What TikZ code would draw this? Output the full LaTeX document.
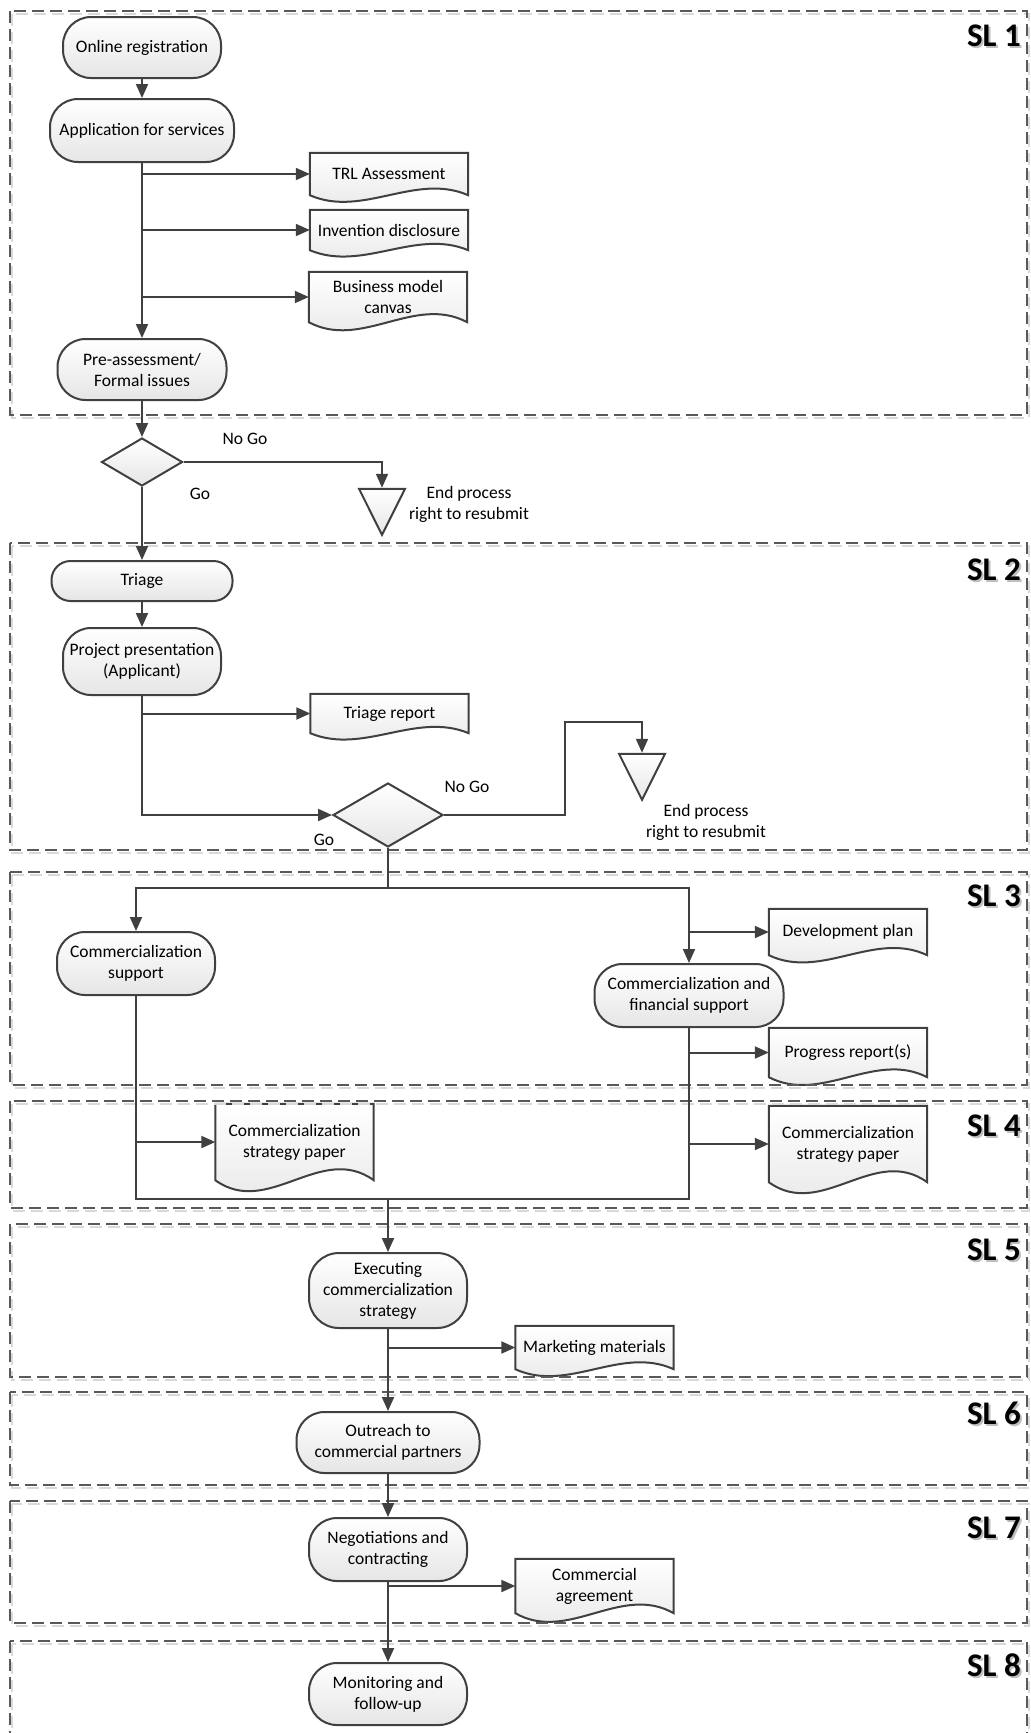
\documentclass[tikz,border=0pt]{standalone}
\usepackage{fontspec}
\setmainfont{Carlito}
\usepackage{tikz}
\usetikzlibrary{arrows.meta,positioning,calc,shapes.geometric}

\pgfdeclarelayer{paper}
\pgfdeclarelayer{background}
\pgfsetlayers{paper,background,main}

\newcommand{\nodefont}{\fontsize{17.5pt}{21pt}\selectfont}
\newcommand{\slfont}{\fontsize{33pt}{38pt}\selectfont\bfseries}

\tikzset{
  conn/.style={draw=black!75, line width=2pt},
  arr/.style={conn, -{Triangle[length=14pt,width=12pt]}},
  shade/.style={top color=white, bottom color=black!10},
  term/.style={conn, shade, rounded corners=28pt, align=center, inner sep=2pt,
    minimum width=158pt, minimum height=62pt, font=\nodefont},
  doc/.style={align=center, inner sep=2pt, minimum width=158pt, font=\nodefont},
  docline/.style={conn, shade},
  decision/.style={conn, shade, diamond, inner sep=0pt},
  endtri/.style={conn, shade, isosceles triangle, isosceles triangle apex angle=53.13,
    shape border rotate=-90, minimum width=46pt, minimum height=46pt, inner sep=0pt, anchor=apex},
  lbl/.style={align=center, font=\nodefont},
  lane/.style={draw=black!65, line width=1.5pt, dash pattern=on 12pt off 6pt},
  laneshade/.style={draw=black!15, line width=1.5pt, dash pattern=on 12pt off 6pt},
  sl/.style={anchor=east, inner sep=0pt, font=\slfont},
  slshade/.style={sl, text=black!25},
}

% document symbol with a wavy lower edge
\newcommand{\docshape}[2]{%
  \begin{pgfonlayer}{background}
    \path[docline] (#1.north west) -- (#1.north east) -- (#1.south east)
      .. controls ($(#1.south west)!0.667!(#1.south east)+(0,-#2)$)
      and ($(#1.south west)!0.333!(#1.south east)+(0,#2)$) .. (#1.south west) -- cycle;
  \end{pgfonlayer}}

% swimlane box with its pale shadow
\newcommand{\swimlane}[2]{%
  \draw[laneshade] (12,{#1+3}) rectangle (1029,{#2+3});
  \draw[lane] (10,#1) rectangle (1027,#2);}

\begin{document}
\begin{tikzpicture}[x=1pt, y=-1pt]
    \begin{pgfonlayer}{paper}
      \fill[white] (0,0) rectangle (1031,1733);
    \end{pgfonlayer}
    \useasboundingbox (0,0) rectangle (1031,1733);

    % Lanes
    \swimlane{11}{415}
    \swimlane{543}{850}
    \swimlane{872}{1085}
    \swimlane{1101}{1208}
    \swimlane{1224}{1377}
    \swimlane{1392}{1485}
    \swimlane{1501}{1623}
    \swimlane{1641}{1760}

    \node[slshade] (sl1s) at (1023,38) {SL 1};
    \node[sl] (sl1) at (1021,36) {SL 1};
    \node[slshade] (sl2s) at (1023,572) {SL 2};
    \node[sl] (sl2) at (1021,570) {SL 2};
    \node[slshade] (sl3s) at (1023,898) {SL 3};
    \node[sl] (sl3) at (1021,896) {SL 3};
    \node[slshade] (sl4s) at (1023,1128) {SL 4};
    \node[sl] (sl4) at (1021,1126) {SL 4};
    \node[slshade] (sl5s) at (1023,1252) {SL 5};
    \node[sl] (sl5) at (1021,1250) {SL 5};
    \node[slshade] (sl6s) at (1023,1415) {SL 6};
    \node[sl] (sl6) at (1021,1413) {SL 6};
    \node[slshade] (sl7s) at (1023,1530) {SL 7};
    \node[sl] (sl7) at (1021,1528) {SL 7};
    \node[slshade] (sl8s) at (1023,1667) {SL 8};
    \node[sl] (sl8) at (1021,1665) {SL 8};

    % Nodes
    \node[term, minimum height=61pt] (reg) at (142,47.5) {Online registration};
    \node[term, minimum width=184pt, minimum height=63pt] (app) at (142,130.5) {Application for services};
    \node[term, minimum width=169pt, minimum height=61pt] (pre) at (142,369.5) {Pre-assessment/\\Formal issues};
    \node[decision, minimum width=81pt, minimum height=48pt] (dec1) at (142,462) {};
    \node[endtri] (end1) at (382,537) {};
    \node[term, rounded corners=19pt, minimum width=181pt, minimum height=40pt] (triage) at (142,581) {Triage};
    \node[term, minimum height=67pt] (pres) at (142,661.5) {Project presentation\\(Applicant)};
    \node[decision, minimum width=110pt, minimum height=64pt] (dec2) at (388,815) {};
    \node[endtri] (end2) at (642,802) {};
    \node[term, minimum height=63pt] (csup) at (136,963.5) {Commercialization\\support};
    \node[term, minimum width=189pt, minimum height=63pt] (cfin) at (689,995.5) {Commercialization and\\financial support};
    \node[term, rounded corners=30pt, minimum height=75pt] (exec) at (388,1290.5) {Executing\\commercialization\\strategy};
    \node[term, minimum width=183pt, minimum height=61pt] (outreach) at (388,1442.5) {Outreach to\\commercial partners};
    \node[term, minimum height=63pt] (nego) at (388,1549.5) {Negotiations and\\contracting};
    \node[term, minimum height=62pt] (mon) at (388,1694) {Monitoring and\\follow-up};

    \node[doc, minimum height=42pt] (trl) at (389,174) {TRL Assessment};
    \node[doc, minimum height=40pt] (inv) at (389,230) {Invention disclosure};
    \node[doc, minimum height=50pt] (bmc) at (388,297) {Business model\\canvas};
    \node[doc, minimum height=39pt] (trep) at (389.5,713.5) {Triage report};
    \node[doc, minimum height=46pt] (devplan) at (848,932) {Development plan};
    \node[doc, minimum height=49pt] (progress) at (848,1052.5) {Progress report(s)};
    \node[doc, minimum height=76pt] (cspa) at (294.5,1142) {Commercialization\\strategy paper};
    \node[doc, minimum height=76pt] (cspb) at (848,1144) {Commercialization\\strategy paper};
    \node[doc, minimum height=43pt] (mkt) at (594.5,1347.5) {Marketing materials};
    \node[doc, minimum height=54pt] (agree) at (594.5,1586) {Commercial\\agreement};
    \docshape{trl}{23}
    \docshape{inv}{22}
    \docshape{bmc}{28}
    \docshape{trep}{22}
    \docshape{devplan}{25}
    \docshape{progress}{27}
    \docshape{cspa}{38}
    \docshape{cspb}{38}
    \docshape{mkt}{24}
    \docshape{agree}{30}

    \node[lbl] (nogoa) at (245,439) {No Go};
    \node[lbl] (goa) at (200,494) {Go};
    \node[lbl] (enda) at (469,504.5) {End process\\right to resubmit};
    \node[lbl] (nogob) at (467,787) {No Go};
    \node[lbl] (gob) at (324,840) {Go};
    \node[lbl] (endb) at (706,822.5) {End process\\right to resubmit};

    \coordinate (join) at (388,1199);

    % Arrows
    \draw[arr] (reg) -- (app);
    \draw[arr] (app) -- (pre);
    \draw[arr] (app.south |- trl) -- (trl);
    \draw[arr] (app.south |- inv) -- (inv);
    \draw[arr] (app.south |- bmc) -- (bmc);
    \draw[arr] (pre) -- (dec1);
    \draw[arr] (dec1.east) -| (end1.lower side);
    \draw[arr] (dec1) -- (triage);
    \draw[arr] (triage) -- (pres);
    \draw[arr] (pres.south |- trep) -- (trep);
    \draw[arr] (pres.south) |- (dec2.west);
    \draw[arr] (dec2.east) -- ++(121,0) |- ([yshift=31pt]end2.lower side) -- (end2.lower side);
    \draw[arr] (dec2.south) -- ++(0,40) -| (csup.north);
    \draw[arr] (dec2.south) ++(0,40) -| (cfin.north);
    \draw[arr] (cfin.north |- devplan) -- (devplan);
    \draw[arr] (cfin.south |- progress) -- (progress);
    \draw[arr] (cfin.south |- cspb) -- (cspb);
    \draw[arr] (csup.south |- cspa) -- (cspa);
    \draw[conn] (csup.south) |- (join);
    \draw[conn] (cfin.south) |- (join);
    \draw[arr] (join) -- (exec);
    \draw[arr] (exec.south |- mkt) -- (mkt);
    \draw[arr] (exec) -- (outreach);
    \draw[arr] (outreach) -- (nego);
    \draw[arr] (nego.south |- agree) -- (agree);
    \draw[arr] (nego) -- (mon);
\end{tikzpicture}
\end{document}
